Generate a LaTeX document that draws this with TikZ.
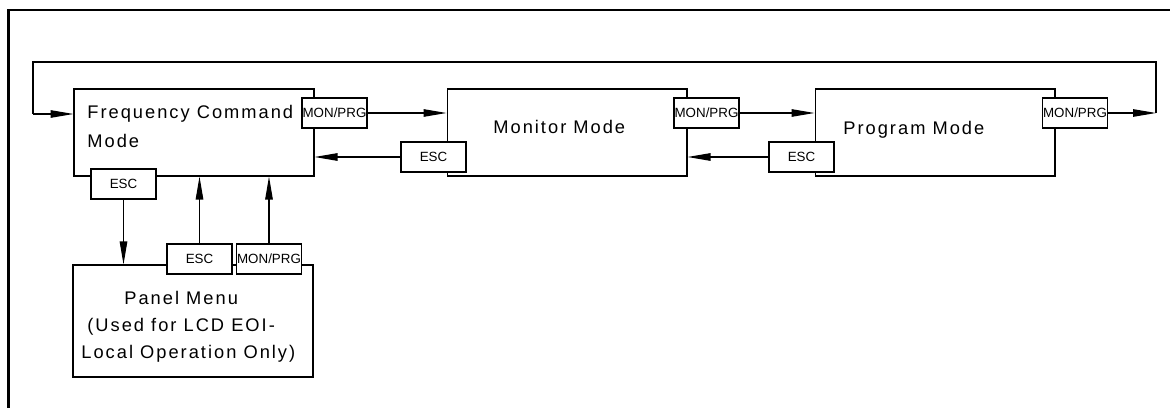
\documentclass[tikz,border=0pt]{standalone}
\usepackage{fontspec}
\setmainfont{Liberation Sans}
\newfontfamily\cadfont{Liberation Sans}[LetterSpace=11]
\usetikzlibrary{arrows.meta, positioning}

\tikzstyle{arrow}    = [line width=0.6pt, -{Triangle[length=0.46cm, width=0.15cm]}]
\tikzstyle{wire}     = [line width=0.6pt]
\tikzstyle{modebox}  = [draw, line width=0.6pt, minimum width=4.8cm, minimum height=1.74cm, inner sep=0pt]
\tikzstyle{keytag}   = [draw, fill=white, line width=0.6pt, minimum width=1.3cm, minimum height=0.6cm, inner sep=0pt, font=\fontsize{7.6}{8}\selectfont]
\tikzstyle{modetext} = [anchor=base west, inner sep=0pt, font=\cadfont\fontsize{10.4}{12}\selectfont]

\begin{document}
\begin{tikzpicture}[x=0.02cm, y=-0.02cm]
\useasboundingbox (0,0) rectangle (1170,408);

% frame
\draw[line width=1.7pt] (8.5,408) -- (8.5,10) -- (1170,10);

% modes
\node[modebox] (fcm) at (194,132.5) {};
\node[modebox] (mon) at (567,132.5) {};
\node[modebox] (prg) at (935,132.5) {};
\node[modebox, minimum height=2.24cm] (pnl) at (193,321) {};

% texts
\node[modetext] (fcmtxt1) at (87,119) {Frequency Command};
\node[modetext] (fcmtxt2) at (87,148) {Mode};
\node[modetext] (montxt) at (493,134) {Monitor Mode};
\node[modetext] (prgtxt) at (843,135) {Program Mode};
\node[modetext] (pnltxt1) at (124,305) {Panel Menu};
\node[modetext] (pnltxt2) at (87,332) {(Used for LCD EOI-};
\node[modetext] (pnltxt3) at (81,359) {Local Operation Only)};

% keys
\node[keytag] (fcmmp) at (334.5,113) {MON/PRG};
\node[keytag] (fcmesc) at (123.5,184) {ESC};
\node[keytag] (monesc) at (433.5,157) {ESC};
\node[keytag] (monmp) at (706.5,113) {MON/PRG};
\node[keytag] (prgesc) at (801.5,157) {ESC};
\node[keytag] (prgmp) at (1075,113) {MON/PRG};
\node[keytag] (pnlesc) at (199.5,259) {ESC};
\node[keytag] (pnlmp) at (269,259) {MON/PRG};

% loop back
\coordinate (rt) at (1156,113);
\coordinate (rtop) at (1156,62);
\coordinate (ltop) at (33,62);
\coordinate (lft) at (33,114);

% forward
\draw[arrow] (fcmmp.east) -- (fcmmp.east -| mon.west);
\draw[arrow] (monmp.east) -- (monmp.east -| prg.west);
\draw[arrow] (prgmp.east) -- (rt);
\draw[wire] (rt) -- (rtop) -- (ltop) -- (lft);
\draw[arrow] (lft) -- (lft -| fcm.west);

% back
\draw[arrow] (monesc.west) -- (monesc.west -| fcm.east);
\draw[arrow] (prgesc.west) -- (prgesc.west -| mon.east);

% panel menu
\draw[arrow] (fcmesc.south) -- (fcmesc.south |- pnl.north);
\draw[arrow] (pnlesc.north) -- (pnlesc.north |- fcm.south);
\draw[arrow] (pnlmp.north) -- (pnlmp.north |- fcm.south);

\end{tikzpicture}
\end{document}
